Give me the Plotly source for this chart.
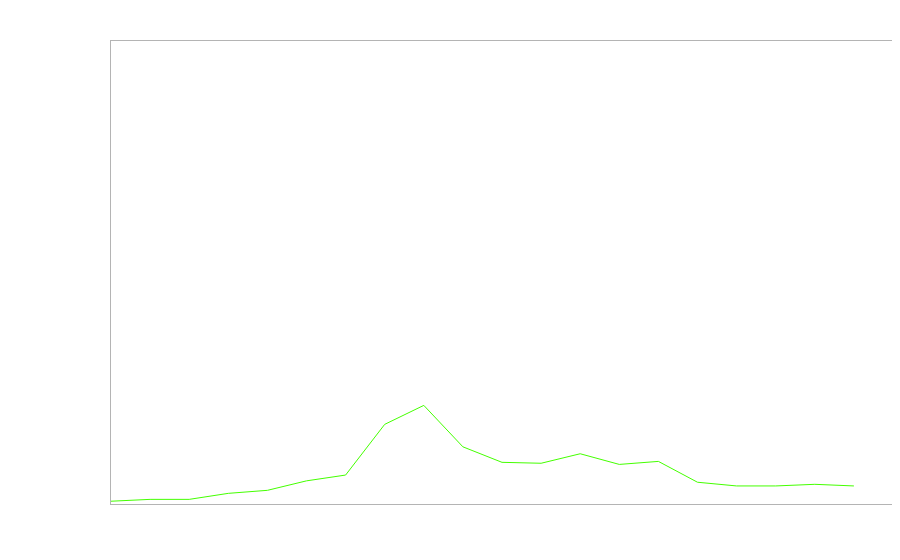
import plotly.graph_objects as go

# values (no axis labels shown, y scaled 0-100)
steps = list(range(20))
values = [0.6, 1.0, 1.0, 2.3, 2.95, 5.0, 6.25, 17.2, 21.3, 12.35,
          9.0, 8.8, 10.85, 8.55, 9.2, 4.7, 3.9, 3.9, 4.25, 3.9]

fig = go.Figure()
fig.add_trace(go.Scatter(
    x=steps, y=values,
    mode="lines",
    line=dict(color="#44ff00", width=1),
    hoverinfo="skip",
    showlegend=False
))

axis_style = dict(
    showgrid=False, zeroline=False, showticklabels=False, ticks="",
    showline=True, mirror=True, linecolor="#b4b4b4", linewidth=1
)
fig.update_xaxes(range=[0, 20], **axis_style)
fig.update_yaxes(range=[0, 100], **axis_style)

# page body has an 8px margin, so the margins here are shifted to compensate
fig.update_layout(
    width=900, height=560,
    margin=dict(l=103, r=15, t=33, b=64),
    paper_bgcolor="white",
    plot_bgcolor="white"
)

fig.write_html("out.html")
